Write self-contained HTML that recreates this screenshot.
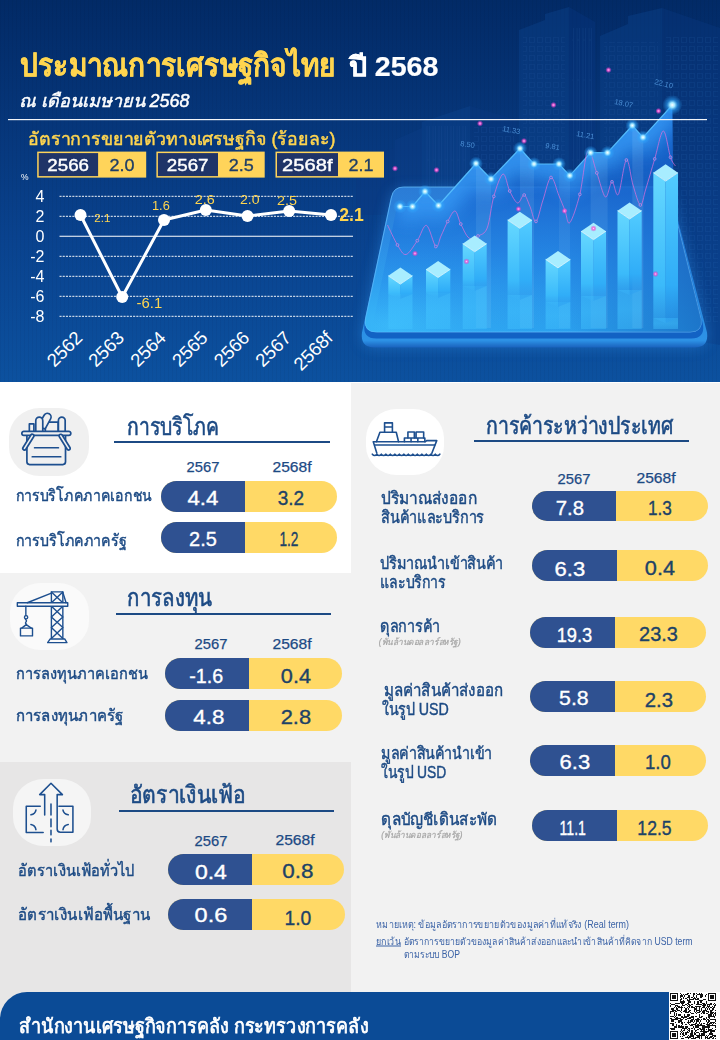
<!DOCTYPE html>
<html lang="th">
<head>
<meta charset="utf-8">
<title>ประมาณการเศรษฐกิจไทย ปี 2568</title>
<style>
html,body{margin:0;padding:0}
body{width:720px;height:1040px;position:relative;overflow:hidden;background:#fff;font-family:"Liberation Sans",sans-serif;color:#1c4a84}
#hdr{position:absolute;left:0;top:0;width:720px;height:381.5px;overflow:hidden;background:linear-gradient(to bottom,#022a66 0%,#07397f 40%,#09428e 62%,#0c519f 100%)}
#hdr svg{position:absolute;left:0;top:0}
#content{position:absolute;left:0;top:383px;width:720px;height:657px;background:#f2f2f2}
#p1{position:absolute;left:0;top:383px;width:351px;height:190.3px;background:#fff}
#p3{position:absolute;left:0;top:762.2px;width:350.7px;height:270px;background:#e7e6e6}
.ico{position:absolute;border-radius:31px/29px}
.ico svg{position:absolute;left:0;top:0;overflow:visible}
.ul{position:absolute;height:2px;background:#1c4a84}
.pill{position:absolute;border-radius:16px;overflow:hidden;background:#ffd966;font-size:20px;white-space:nowrap}
.pill b,.pill i{-webkit-text-stroke:0.35px currentColor}
.pill b{position:absolute;left:0;top:0;bottom:0;background:#2f5191;color:#fff;font-weight:normal;text-align:center}
.pill i{position:absolute;right:0;top:0;bottom:0;font-style:normal;color:#1d4266;text-align:center}
.yr{-webkit-text-stroke:0.25px currentColor;position:absolute;font-size:14.2px;line-height:14px;width:60px;text-align:center;color:#1c4a84;white-space:nowrap}
#ftr{position:absolute;left:0;top:992.3px;width:720px;height:48px;background:#0b4b96;border-top-left-radius:27px;overflow:hidden}
#txt{position:absolute;left:0;top:0;overflow:visible}
#txt text{font-family:"Liberation Sans",sans-serif}
</style>
</head>
<body>
<div id="hdr">
<svg width="720" height="382" viewBox="0 0 720 382">
<defs>
<linearGradient id="gPlat" x1="0" y1="0" x2="0" y2="1"><stop offset="0" stop-color="#2b7cd6"/><stop offset="0.45" stop-color="#2b8ee6"/><stop offset="1" stop-color="#2ba4f2"/></linearGradient>
<linearGradient id="gPlatR" x1="0" y1="0" x2="1" y2="0"><stop offset="0" stop-color="#0a3f9a" stop-opacity="0"/><stop offset="0.6" stop-color="#0a3f9a" stop-opacity="0.05"/><stop offset="1" stop-color="#0a3f9a" stop-opacity="0.45"/></linearGradient>
<linearGradient id="gSide" x1="0" y1="0" x2="0" y2="1"><stop offset="0" stop-color="#1a6fd0"/><stop offset="0.955" stop-color="#2d92e6"/><stop offset="1" stop-color="#1a62bd"/></linearGradient>
<linearGradient id="gArea" x1="0" y1="0" x2="0" y2="1"><stop offset="0" stop-color="#1a6ad4" stop-opacity="0.95"/><stop offset="0.4" stop-color="#1866d0" stop-opacity="0.8"/><stop offset="0.8" stop-color="#1f86ea" stop-opacity="0.25"/><stop offset="1" stop-color="#2a9af5" stop-opacity="0.0"/></linearGradient>
<linearGradient id="gBarL" x1="0" y1="0" x2="0" y2="1"><stop offset="0" stop-color="#66d8ff"/><stop offset="0.75" stop-color="#3cbcfb" stop-opacity="0.97"/><stop offset="1" stop-color="#38b0f6" stop-opacity="0.45"/></linearGradient>
<linearGradient id="gBarR" x1="0" y1="0" x2="0" y2="1"><stop offset="0" stop-color="#52ccff"/><stop offset="0.75" stop-color="#30aef8" stop-opacity="0.97"/><stop offset="1" stop-color="#2c9ff0" stop-opacity="0.45"/></linearGradient>
<linearGradient id="gRefl" x1="0" y1="0" x2="0" y2="1"><stop offset="0" stop-color="#42c4ff" stop-opacity="0.5"/><stop offset="0.5" stop-color="#42c4ff" stop-opacity="0.55"/><stop offset="1" stop-color="#42c4ff" stop-opacity="0.4"/></linearGradient>
<radialGradient id="gGlow"><stop offset="0" stop-color="#ffffff"/><stop offset="0.25" stop-color="#9fe6ff"/><stop offset="0.55" stop-color="#2fa8ff" stop-opacity="0.55"/><stop offset="1" stop-color="#2fa8ff" stop-opacity="0"/></radialGradient>
<radialGradient id="gPink"><stop offset="0" stop-color="#ffd0ff"/><stop offset="0.35" stop-color="#ff5fd8"/><stop offset="1" stop-color="#c030c0" stop-opacity="0"/></radialGradient>
<radialGradient id="gVig" cx="0.3" cy="0.55" r="0.8"><stop offset="0" stop-color="#1050a8" stop-opacity="0.25"/><stop offset="1" stop-color="#001a50" stop-opacity="0"/></radialGradient>
<filter id="fBlur2" x="-10%" y="-30%" width="120%" height="160%"><feGaussianBlur stdDeviation="9"/></filter>
<filter id="fBlur" x="-20%" y="-20%" width="140%" height="140%"><feGaussianBlur stdDeviation="7"/></filter>
<radialGradient id="gPlatGlow" cx="0.08" cy="0.95" r="0.6"><stop offset="0" stop-color="#3fc0fc" stop-opacity="0.75"/><stop offset="0.5" stop-color="#38b4f8" stop-opacity="0.3"/><stop offset="1" stop-color="#38b4f8" stop-opacity="0"/></radialGradient>
<pattern id="pStripe" width="4" height="4" patternUnits="userSpaceOnUse"><rect x="0" y="0" width="1" height="4" fill="#000" opacity="0.035"/></pattern>
<pattern id="pWin" width="8" height="9" patternUnits="userSpaceOnUse"><rect x="1.5" y="1.5" width="5" height="5" fill="none" stroke="#2a62b0" stroke-width="0.8" opacity="0.38"/></pattern>
<pattern id="pLines" width="6" height="40" patternUnits="userSpaceOnUse"><rect x="1" y="0" width="2.5" height="40" fill="none" stroke="#2a62b0" stroke-width="0.7" opacity="0.45"/></pattern>
</defs>
<rect width="720" height="382" fill="url(#pStripe)"/>
<g opacity="0.5">
<polygon points="395,140 422,128 422,192 395,192" fill="#0d3f88" opacity="0.75"/>
<polygon points="422,122 470,106 470,192 422,192" fill="#0f4590" opacity="0.75"/>
<polygon points="470,106 517,120 517,192 470,192" fill="#0b3a82" opacity="0.75"/>
<polygon points="519,30 545,20 545,14 569,7 569,192 519,192" fill="#0f4590" opacity="0.75"/>
<polygon points="569,7 595,22 595,192 569,192" fill="#0a3780" opacity="0.75"/>
<polygon points="600,36 628,24 628,16 662,8 662,335 600,200" fill="#0f4590" opacity="0.75"/>
<polygon points="662,8 720,28 720,345 662,335" fill="#0b3a82" opacity="0.75"/>
<polygon points="356,158 395,148 395,215 356,215" fill="#0b3a82" opacity="0.75"/>
<rect x="523" y="36" width="42" height="152" fill="url(#pWin)"/>
<rect x="572" y="28" width="21" height="160" fill="url(#pLines)"/>
<rect x="604" y="42" width="54" height="150" fill="url(#pWin)"/>
<rect x="666" y="34" width="52" height="290" fill="url(#pWin)"/>
<rect x="426" y="126" width="40" height="62" fill="url(#pLines)"/>
<rect x="474" y="124" width="40" height="64" fill="url(#pWin)"/>
</g>
<path d="M404,189 L659,189 Q671,189 673,201 L707,332.5 Q709,347.5 694,347.5 L375,347.5 Q360,347.5 362,332.5 L390,201 Q392,189 404,189 Z" fill="#2f8fe8" opacity="0.45" filter="url(#fBlur)"/>
<path d="M404,189 L659,189 Q671,189 673,201 L707,332.5 Q709,347.5 694,347.5 L375,347.5 Q360,347.5 362,332.5 L390,201 Q392,189 404,189 Z" fill="url(#gSide)"/>
<path d="M404,187 L659,187 Q670,187 672,198 L703,324.5 Q705,338.5 691,338.5 L376.5,338.5 Q362.5,338.5 364.5,324.5 L391,198 Q393,187 404,187 Z" fill="#1262c4"/>
<path d="M403.5,187 L659,187 Q669,187 671,197 L701,319 Q703,332 690,332 L376.5,332 Q363.5,332 365.5,319 L391.5,197 Q393.5,187 403.5,187 Z" fill="url(#gPlat)" stroke="#6cc4ff" stroke-opacity="0.7" stroke-width="1"/>
<path d="M403.5,187 L659,187 Q669,187 671,197 L701,319 Q703,332 690,332 L376.5,332 Q363.5,332 365.5,319 L391.5,197 Q393.5,187 403.5,187 Z" fill="url(#gPlatGlow)"/>
<path d="M403.5,187 L659,187 Q669,187 671,197 L701,319 Q703,332 690,332 L376.5,332 Q363.5,332 365.5,319 L391.5,197 Q393.5,187 403.5,187 Z" fill="url(#gPlatR)"/>
<clipPath id="cArea"><polygon points="397,206.5 400,206.5 412.5,206.5 425,191.5 438.5,205.5 476,163.5 491,179 520,148.5 534,164 559,164 569.8,175.6 590.6,152.7 607.5,152.7 632.3,125.5 643,137.3 672.3,105 673.5,200 674.5,328 372,328 397,206.5"/></clipPath>
<polygon points="397,206.5 400,206.5 412.5,206.5 425,191.5 438.5,205.5 476,163.5 491,179 520,148.5 534,164 559,164 569.8,175.6 590.6,152.7 607.5,152.7 632.3,125.5 643,137.3 672.3,105 673.5,200 674.5,328 372,328 397,206.5" fill="url(#gArea)"/>
<g clip-path="url(#cArea)"><polyline points="397,206.5 400,206.5 412.5,206.5 425,191.5 438.5,205.5 476,163.5 491,179 520,148.5 534,164 559,164 569.8,175.6 590.6,152.7 607.5,152.7 632.3,125.5 643,137.3 672.3,105" fill="none" stroke="#3aa0fa" stroke-width="30" stroke-linejoin="round" opacity="0.75" filter="url(#fBlur2)"/></g>
<rect x="476" y="100" width="15" height="228" fill="#bfe8ff" opacity="0.1" clip-path="url(#cArea)"/>
<rect x="520" y="100" width="14" height="228" fill="#bfe8ff" opacity="0.1" clip-path="url(#cArea)"/>
<rect x="559" y="100" width="11" height="228" fill="#bfe8ff" opacity="0.08" clip-path="url(#cArea)"/>
<rect x="590.6" y="100" width="17" height="228" fill="#bfe8ff" opacity="0.1" clip-path="url(#cArea)"/>
<rect x="632.3" y="100" width="11" height="228" fill="#bfe8ff" opacity="0.12" clip-path="url(#cArea)"/>
<polyline points="397,206.5 400,206.5 412.5,206.5 425,191.5 438.5,205.5 476,163.5 491,179 520,148.5 534,164 559,164 569.8,175.6 590.6,152.7 607.5,152.7 632.3,125.5 643,137.3 672.3,105" fill="none" stroke="#59c2ff" stroke-width="1.2" stroke-opacity="0.9"/>
<rect x="388.3" y="294" width="24.2" height="35.0" fill="url(#gRefl)"/>
<rect x="426" y="293" width="24.3" height="36.0" fill="url(#gRefl)"/>
<rect x="462.7" y="286" width="24.0" height="43.0" fill="url(#gRefl)"/>
<rect x="507.6" y="295" width="24.4" height="34.0" fill="url(#gRefl)"/>
<rect x="545.6" y="302" width="24.8" height="27.0" fill="url(#gRefl)"/>
<rect x="581" y="296" width="25.0" height="33.0" fill="url(#gRefl)"/>
<rect x="617.5" y="290" width="24.2" height="39.0" fill="url(#gRefl)"/>
<rect x="653.3" y="318" width="24.7" height="11.0" fill="url(#gRefl)"/>
<path d="M387.5,225 C389.2,228.3 394.4,240.1 397.5,245 C400.6,249.9 402.7,255.2 406,254.5 C409.3,253.8 413.9,245.5 417.3,240.7 C420.7,235.8 423.4,224.4 426.5,225.4 C429.6,226.4 433.4,244.7 435.8,246.5 C438.2,248.3 439.0,240.2 441,236 C443.0,231.8 445.4,225.7 447.7,221.5 C450.0,217.3 452.8,210.6 455,211 C457.2,211.4 458.5,219.5 460.8,224 C463.1,228.5 466.1,236.0 469,238 C471.9,240.0 475.0,237.7 478,236 C481.0,234.3 484.6,234.6 487.2,228 C489.8,221.4 491.2,205.4 493.8,196.4 C496.4,187.4 500.4,174.9 503,174 C505.6,173.1 507.3,186.2 509.7,191 C512.1,195.8 515.2,202.3 517.6,203 C520.0,203.7 522.1,194.4 524.2,195 C526.3,195.6 528.0,202.1 530,206.5 C532.0,210.9 533.8,222.5 536,221.4 C538.2,220.3 540.5,207.3 543,200 C545.5,192.7 548.3,178.2 551,177.5 C553.7,176.8 556.7,190.3 559,195.8 C561.3,201.3 563.2,206.1 565,210.6 C566.8,215.1 567.3,225.4 569.8,222.7 C572.3,220.0 576.8,206.4 579.8,194.4 C582.8,182.4 585.1,154.1 587.9,150.5 C590.7,146.9 593.9,165.2 596.8,172.9 C599.7,180.7 602.9,195.5 605.4,197 C607.9,198.5 609.9,182.2 612,181.8 C614.1,181.4 615.9,198.0 618.3,194.4 C620.7,190.8 623.9,161.6 626.4,160 C628.9,158.4 630.7,177.5 633,185 C635.3,192.5 638.3,204.3 640.4,205 C642.5,205.7 643.4,196.7 645.8,189 C648.2,181.3 651.8,168.6 654.7,158.9 C657.6,149.2 660.7,131.3 663.3,131 C665.9,130.7 668.5,151.5 670.5,157.3 C672.5,163.1 674.6,164.6 675.4,166" fill="none" stroke="#e070dc" stroke-width="0.95" stroke-opacity="0.75"/>
<circle cx="397.5" cy="245" r="1.4" fill="#2b7fe0" stroke="#f08ae6" stroke-width="0.7" opacity="0.85"/>
<circle cx="417.3" cy="240.7" r="1.4" fill="#2b7fe0" stroke="#f08ae6" stroke-width="0.7" opacity="0.85"/>
<circle cx="435.8" cy="246.5" r="1.4" fill="#2b7fe0" stroke="#f08ae6" stroke-width="0.7" opacity="0.85"/>
<circle cx="447.7" cy="221.5" r="1.4" fill="#2b7fe0" stroke="#f08ae6" stroke-width="0.7" opacity="0.85"/>
<circle cx="460.8" cy="224" r="1.4" fill="#2b7fe0" stroke="#f08ae6" stroke-width="0.7" opacity="0.85"/>
<circle cx="478" cy="236" r="1.4" fill="#2b7fe0" stroke="#f08ae6" stroke-width="0.7" opacity="0.85"/>
<circle cx="493.8" cy="196.4" r="1.4" fill="#2b7fe0" stroke="#f08ae6" stroke-width="0.7" opacity="0.85"/>
<circle cx="509.7" cy="191" r="1.4" fill="#2b7fe0" stroke="#f08ae6" stroke-width="0.7" opacity="0.85"/>
<circle cx="524.2" cy="195" r="1.4" fill="#2b7fe0" stroke="#f08ae6" stroke-width="0.7" opacity="0.85"/>
<circle cx="536" cy="221.4" r="1.4" fill="#2b7fe0" stroke="#f08ae6" stroke-width="0.7" opacity="0.85"/>
<circle cx="551" cy="177.5" r="1.4" fill="#2b7fe0" stroke="#f08ae6" stroke-width="0.7" opacity="0.85"/>
<circle cx="565" cy="210.6" r="1.4" fill="#2b7fe0" stroke="#f08ae6" stroke-width="0.7" opacity="0.85"/>
<circle cx="579.8" cy="194.4" r="1.4" fill="#2b7fe0" stroke="#f08ae6" stroke-width="0.7" opacity="0.85"/>
<circle cx="596.8" cy="172.9" r="1.4" fill="#2b7fe0" stroke="#f08ae6" stroke-width="0.7" opacity="0.85"/>
<circle cx="612" cy="181.8" r="1.4" fill="#2b7fe0" stroke="#f08ae6" stroke-width="0.7" opacity="0.85"/>
<circle cx="626.4" cy="160" r="1.4" fill="#2b7fe0" stroke="#f08ae6" stroke-width="0.7" opacity="0.85"/>
<circle cx="640.4" cy="205" r="1.4" fill="#2b7fe0" stroke="#f08ae6" stroke-width="0.7" opacity="0.85"/>
<circle cx="654.7" cy="158.9" r="1.4" fill="#2b7fe0" stroke="#f08ae6" stroke-width="0.7" opacity="0.85"/>
<circle cx="670.5" cy="157.3" r="1.4" fill="#2b7fe0" stroke="#f08ae6" stroke-width="0.7" opacity="0.85"/>
<polygon points="388.3,275.8 400.4,284.1 400.4,299.0 388.3,294.0" fill="url(#gBarL)"/>
<polygon points="400.4,284.1 412.5,275.8 412.5,294.0 400.4,299.0" fill="url(#gBarR)"/>
<polygon points="400.4,267.6 412.5,275.8 400.4,284.1 388.3,275.8" fill="#a8edff"/>
<polyline points="388.3,275.8 400.4,284.1 412.5,275.8" fill="none" stroke="#e8fbff" stroke-width="0.8" opacity="0.9"/>
<polygon points="426,269.3 438.1,277.5 438.1,298.0 426,293.0" fill="url(#gBarL)"/>
<polygon points="438.1,277.5 450.3,269.3 450.3,293.0 438.1,298.0" fill="url(#gBarR)"/>
<polygon points="438.1,261.0 450.3,269.3 438.1,277.5 426,269.3" fill="#a8edff"/>
<polyline points="426,269.3 438.1,277.5 450.3,269.3" fill="none" stroke="#e8fbff" stroke-width="0.8" opacity="0.9"/>
<polygon points="462.7,243.7 474.7,251.8 474.7,291.0 462.7,286.0" fill="url(#gBarL)"/>
<polygon points="474.7,251.8 486.7,243.7 486.7,286.0 474.7,291.0" fill="url(#gBarR)"/>
<polygon points="474.7,235.5 486.7,243.7 474.7,251.8 462.7,243.7" fill="#a8edff"/>
<polyline points="462.7,243.7 474.7,251.8 486.7,243.7" fill="none" stroke="#e8fbff" stroke-width="0.8" opacity="0.9"/>
<polygon points="507.6,220.0 519.8,228.3 519.8,300.0 507.6,295.0" fill="url(#gBarL)"/>
<polygon points="519.8,228.3 532,220.0 532,295.0 519.8,300.0" fill="url(#gBarR)"/>
<polygon points="519.8,211.7 532,220.0 519.8,228.3 507.6,220.0" fill="#a8edff"/>
<polyline points="507.6,220.0 519.8,228.3 532,220.0" fill="none" stroke="#e8fbff" stroke-width="0.8" opacity="0.9"/>
<polygon points="545.6,259.4 558.0,267.9 558.0,307.0 545.6,302.0" fill="url(#gBarL)"/>
<polygon points="558.0,267.9 570.4,259.4 570.4,302.0 558.0,307.0" fill="url(#gBarR)"/>
<polygon points="558.0,251.0 570.4,259.4 558.0,267.9 545.6,259.4" fill="#a8edff"/>
<polyline points="545.6,259.4 558.0,267.9 570.4,259.4" fill="none" stroke="#e8fbff" stroke-width="0.8" opacity="0.9"/>
<polygon points="581,231.2 593.5,239.7 593.5,301.0 581,296.0" fill="url(#gBarL)"/>
<polygon points="593.5,239.7 606,231.2 606,296.0 593.5,301.0" fill="url(#gBarR)"/>
<polygon points="593.5,222.7 606,231.2 593.5,239.7 581,231.2" fill="#a8edff"/>
<polyline points="581,231.2 593.5,239.7 606,231.2" fill="none" stroke="#e8fbff" stroke-width="0.8" opacity="0.9"/>
<polygon points="617.5,210.7 629.6,219.0 629.6,295.0 617.5,290.0" fill="url(#gBarL)"/>
<polygon points="629.6,219.0 641.7,210.7 641.7,290.0 629.6,295.0" fill="url(#gBarR)"/>
<polygon points="629.6,202.5 641.7,210.7 629.6,219.0 617.5,210.7" fill="#a8edff"/>
<polyline points="617.5,210.7 629.6,219.0 641.7,210.7" fill="none" stroke="#e8fbff" stroke-width="0.8" opacity="0.9"/>
<polygon points="653.3,172.7 665.6,181.1 665.6,323.0 653.3,318.0" fill="url(#gBarL)"/>
<polygon points="665.6,181.1 678,172.7 678,318.0 665.6,323.0" fill="url(#gBarR)"/>
<polygon points="665.6,164.3 678,172.7 665.6,181.1 653.3,172.7" fill="#a8edff"/>
<polyline points="653.3,172.7 665.6,181.1 678,172.7" fill="none" stroke="#e8fbff" stroke-width="0.8" opacity="0.9"/>
<circle cx="400" cy="206.5" r="7" fill="url(#gGlow)"/>
<circle cx="412.5" cy="206.5" r="7" fill="url(#gGlow)"/>
<circle cx="425" cy="191.5" r="7" fill="url(#gGlow)"/>
<circle cx="438.5" cy="205.5" r="7" fill="url(#gGlow)"/>
<circle cx="476" cy="163.5" r="7" fill="url(#gGlow)"/>
<circle cx="491" cy="179" r="7" fill="url(#gGlow)"/>
<circle cx="520" cy="148.5" r="7" fill="url(#gGlow)"/>
<circle cx="534" cy="164" r="7" fill="url(#gGlow)"/>
<circle cx="559" cy="164" r="7" fill="url(#gGlow)"/>
<circle cx="569.8" cy="175.6" r="7" fill="url(#gGlow)"/>
<circle cx="590.6" cy="152.7" r="7" fill="url(#gGlow)"/>
<circle cx="607.5" cy="152.7" r="7" fill="url(#gGlow)"/>
<circle cx="632.3" cy="125.5" r="7" fill="url(#gGlow)"/>
<circle cx="643" cy="137.3" r="7" fill="url(#gGlow)"/>
<circle cx="672.3" cy="105" r="10" fill="url(#gGlow)"/>
<circle cx="608.5" cy="70" r="3.2" fill="url(#gPink)" opacity="0.9"/>
<circle cx="553.5" cy="105" r="3.2" fill="url(#gPink)" opacity="0.9"/>
<circle cx="480" cy="123.5" r="3.2" fill="url(#gPink)" opacity="0.9"/>
<circle cx="658.5" cy="111" r="3.2" fill="url(#gPink)" opacity="0.9"/>
<circle cx="395" cy="168.5" r="3.2" fill="url(#gPink)" opacity="0.9"/>
<circle cx="436.5" cy="170" r="3.2" fill="url(#gPink)" opacity="0.9"/>
<circle cx="524" cy="141" r="3.2" fill="url(#gPink)" opacity="0.9"/>
<circle cx="415" cy="253.5" r="3.2" fill="url(#gPink)" opacity="0.9"/>
<circle cx="466.5" cy="261.5" r="3.2" fill="url(#gPink)" opacity="0.9"/>
<circle cx="518.5" cy="209" r="3.2" fill="url(#gPink)" opacity="0.9"/>
<circle cx="593.5" cy="228.5" r="3.2" fill="url(#gPink)" opacity="0.9"/>
<circle cx="655.5" cy="274" r="3.2" fill="url(#gPink)" opacity="0.9"/>
<circle cx="564.5" cy="211" r="3.2" fill="url(#gPink)" opacity="0.9"/>
<text x="654" y="84" font-family="Liberation Sans, sans-serif" font-size="7.5" fill="#5fa8ee" opacity="0.75" transform="rotate(14 654 84)">22.10</text>
<text x="614" y="104" font-family="Liberation Sans, sans-serif" font-size="7.5" fill="#5fa8ee" opacity="0.75" transform="rotate(12 614 104)">18.07</text>
<text x="502" y="131" font-family="Liberation Sans, sans-serif" font-size="7.5" fill="#5fa8ee" opacity="0.75" transform="rotate(10 502 131)">11.33</text>
<text x="576" y="136" font-family="Liberation Sans, sans-serif" font-size="7.5" fill="#5fa8ee" opacity="0.75" transform="rotate(10 576 136)">11.21</text>
<text x="460" y="146" font-family="Liberation Sans, sans-serif" font-size="7.5" fill="#5fa8ee" opacity="0.75" transform="rotate(8 460 146)">8.50</text>
<text x="545" y="148" font-family="Liberation Sans, sans-serif" font-size="7.5" fill="#5fa8ee" opacity="0.75" transform="rotate(8 545 148)">9.81</text>
<rect x="8" y="119" width="699" height="1.2" fill="#ffffff" opacity="0.95"/>
<line x1="59.5" x2="353" y1="196.3" y2="196.3" stroke="#ffffff" stroke-width="1" stroke-dasharray="2.1 1.1" opacity="0.95"/>
<line x1="59.5" x2="353" y1="216.3" y2="216.3" stroke="#ffffff" stroke-width="1" stroke-dasharray="2.1 1.1" opacity="0.95"/>
<line x1="59.5" x2="353" y1="256.3" y2="256.3" stroke="#ffffff" stroke-width="1" stroke-dasharray="2.1 1.1" opacity="0.95"/>
<line x1="59.5" x2="353" y1="276.3" y2="276.3" stroke="#ffffff" stroke-width="1" stroke-dasharray="2.1 1.1" opacity="0.95"/>
<line x1="59.5" x2="353" y1="296.3" y2="296.3" stroke="#ffffff" stroke-width="1" stroke-dasharray="2.1 1.1" opacity="0.95"/>
<line x1="59.5" x2="353" y1="316.3" y2="316.3" stroke="#ffffff" stroke-width="1" stroke-dasharray="2.1 1.1" opacity="0.95"/>
<line x1="59.5" x2="353" y1="236.3" y2="236.3" stroke="#ffffff" stroke-width="1.1"/>
<polyline points="80.5,215.0 122.2,297.0 164.0,220.0 205.8,210.0 247.5,216.0 289.2,211.0 331.0,215.0" fill="none" stroke="#ffffff" stroke-width="3" stroke-linejoin="round"/>
<circle cx="80.5" cy="215.0" r="6" fill="#ffffff"/>
<circle cx="122.2" cy="297.0" r="6" fill="#ffffff"/>
<circle cx="164.0" cy="220.0" r="6" fill="#ffffff"/>
<circle cx="205.8" cy="210.0" r="6" fill="#ffffff"/>
<circle cx="247.5" cy="216.0" r="6" fill="#ffffff"/>
<circle cx="289.2" cy="211.0" r="6" fill="#ffffff"/>
<circle cx="331.0" cy="215.0" r="6" fill="#ffffff"/>
<text x="44.5" y="201.6" text-anchor="end" font-family="Liberation Sans, sans-serif" font-size="16" fill="#ffffff">4</text>
<text x="44.5" y="221.6" text-anchor="end" font-family="Liberation Sans, sans-serif" font-size="16" fill="#ffffff">2</text>
<text x="44.5" y="241.6" text-anchor="end" font-family="Liberation Sans, sans-serif" font-size="16" fill="#ffffff">0</text>
<text x="44.5" y="261.6" text-anchor="end" font-family="Liberation Sans, sans-serif" font-size="16" fill="#ffffff">-2</text>
<text x="44.5" y="281.6" text-anchor="end" font-family="Liberation Sans, sans-serif" font-size="16" fill="#ffffff">-4</text>
<text x="44.5" y="301.6" text-anchor="end" font-family="Liberation Sans, sans-serif" font-size="16" fill="#ffffff">-6</text>
<text x="44.5" y="321.6" text-anchor="end" font-family="Liberation Sans, sans-serif" font-size="16" fill="#ffffff">-8</text>
<text x="21" y="179.5" font-family="Liberation Sans, sans-serif" font-size="8.5" fill="#ffffff">%</text>
<text x="83.5" y="339" text-anchor="end" font-family="Liberation Sans, sans-serif" font-size="18.5" fill="#ffffff" transform="rotate(-45 83.5 339)">2562</text>
<text x="125.2" y="339" text-anchor="end" font-family="Liberation Sans, sans-serif" font-size="18.5" fill="#ffffff" transform="rotate(-45 125.2 339)">2563</text>
<text x="167.0" y="339" text-anchor="end" font-family="Liberation Sans, sans-serif" font-size="18.5" fill="#ffffff" transform="rotate(-45 167.0 339)">2564</text>
<text x="208.8" y="339" text-anchor="end" font-family="Liberation Sans, sans-serif" font-size="18.5" fill="#ffffff" transform="rotate(-45 208.8 339)">2565</text>
<text x="250.5" y="339" text-anchor="end" font-family="Liberation Sans, sans-serif" font-size="18.5" fill="#ffffff" transform="rotate(-45 250.5 339)">2566</text>
<text x="292.2" y="339" text-anchor="end" font-family="Liberation Sans, sans-serif" font-size="18.5" fill="#ffffff" transform="rotate(-45 292.2 339)">2567</text>
<text x="334.0" y="339" text-anchor="end" font-family="Liberation Sans, sans-serif" font-size="18.5" fill="#ffffff" transform="rotate(-45 334.0 339)">2568f</text>
<text x="94.2" y="221.7" textLength="16.2" lengthAdjust="spacingAndGlyphs" font-family="Liberation Sans, sans-serif" font-size="11" fill="#ffd54f">2.1</text>
<text x="136.5" y="307.9" textLength="25.7" lengthAdjust="spacingAndGlyphs" font-family="Liberation Sans, sans-serif" font-size="15" fill="#ffd54f">-6.1</text>
<text x="152" y="209.9" textLength="17.8" lengthAdjust="spacingAndGlyphs" font-family="Liberation Sans, sans-serif" font-size="12.5" fill="#ffd54f">1.6</text>
<text x="194.8" y="203.9" textLength="20.0" lengthAdjust="spacingAndGlyphs" font-family="Liberation Sans, sans-serif" font-size="13.5" fill="#ffd54f">2.6</text>
<text x="240" y="204.4" textLength="19.6" lengthAdjust="spacingAndGlyphs" font-family="Liberation Sans, sans-serif" font-size="13.5" fill="#ffd54f">2.0</text>
<text x="277" y="205" textLength="20.0" lengthAdjust="spacingAndGlyphs" font-family="Liberation Sans, sans-serif" font-size="13.5" fill="#ffd54f">2.5</text>
<text x="339.3" y="220.7" textLength="24.5" lengthAdjust="spacingAndGlyphs" font-family="Liberation Sans, sans-serif" font-size="19" font-weight="bold" fill="#ffd54f">2.1</text>
<rect x="37.2" y="151.6" width="109.0" height="26" fill="#ffd45a"/>
<rect x="38.7" y="153.1" width="59.4" height="23" fill="#1f3468"/>
<text x="47.3" y="171.2" textLength="41.7" lengthAdjust="spacingAndGlyphs" font-family="Liberation Sans, sans-serif" font-size="16.5" fill="#ffffff" stroke="#ffffff" stroke-width="0.4">2566</text>
<text x="109.6" y="171.2" textLength="25" lengthAdjust="spacingAndGlyphs" font-family="Liberation Sans, sans-serif" font-size="16" fill="#1f3e66" stroke="#1f3e66" stroke-width="0.3">2.0</text>
<rect x="156.4" y="151.6" width="108.3" height="26" fill="#ffd45a"/>
<rect x="157.9" y="153.1" width="60.1" height="23" fill="#1f3468"/>
<text x="166.8" y="171.2" textLength="41.7" lengthAdjust="spacingAndGlyphs" font-family="Liberation Sans, sans-serif" font-size="16.5" fill="#ffffff" stroke="#ffffff" stroke-width="0.4">2567</text>
<text x="228.8" y="171.2" textLength="25" lengthAdjust="spacingAndGlyphs" font-family="Liberation Sans, sans-serif" font-size="16" fill="#1f3e66" stroke="#1f3e66" stroke-width="0.3">2.5</text>
<rect x="275.5" y="151.6" width="108.5" height="26" fill="#ffd45a"/>
<rect x="277.0" y="153.1" width="61.0" height="23" fill="#1f3468"/>
<text x="282.0" y="171.2" textLength="50.5" lengthAdjust="spacingAndGlyphs" font-family="Liberation Sans, sans-serif" font-size="16.5" fill="#ffffff" stroke="#ffffff" stroke-width="0.4">2568f</text>
<text x="348.5" y="171.2" textLength="25" lengthAdjust="spacingAndGlyphs" font-family="Liberation Sans, sans-serif" font-size="16" fill="#1f3e66" stroke="#1f3e66" stroke-width="0.3">2.1</text>
</svg>
</div>
<div id="content"></div>
<div id="p1"></div>
<div id="p3"></div>
<div class="ico" id="i1" style="left:9px;top:408px;width:79.5px;height:68.3px;background:#f0f0f0"><svg width="78" height="68" viewBox="0 0 78 68" fill="none" stroke="#1d4f8f" stroke-width="1.7" stroke-linecap="round" stroke-linejoin="round"><path d="M 20.35,23.3 L 20.35,15.95 L 24.9,15.95 L 24.9,23.3"/>
<path d="M 36.34,23.3 L 36.34,14.2 L 49.17,14.2 L 49.17,23.3" fill="#f0f0f0"/>
<path d="M 28.33,19.19 L 35.1,7.24 A 3.73,3.73 0 0 1 41.6,10.9 L 36.15,20.83 Z" fill="#f0f0f0"/>
<path d="M 26.77,23.3 L 26.77,12.68 A 3.5,3.5 0 0 1 33.77,12.68 L 33.77,23.3" fill="#f0f0f0"/>
<path d="M 49.4,23.3 L 49.4,12.45 A 3.38,3.38 0 0 1 56.17,12.45 L 56.17,23.3" fill="#f0f0f0"/>
<path d="M 17.9,26.57 L 17.9,53.87 Q 17.9,56.55 20.58,56.55 L 53.84,56.55 Q 56.52,56.55 56.52,53.87 L 56.52,26.57 Z" fill="#f0f0f0"/>
<path d="M 14.87,23.3 L 59.79,23.3 A 2.04,2.04 0 0 1 59.79,27.38 L 14.87,27.38 A 2.04,2.04 0 0 1 14.87,23.3 Z" fill="#f0f0f0"/>
<path d="M 25.6,39.75 L 49.4,39.75 M 23.27,48.74 L 51.74,48.74"/>
<path d="M 21.87,27.03 A 1.63,1.63 0 0 1 24.67,28.78 L 16.85,41.27 A 1.63,1.63 0 0 1 14.05,39.52 Z" fill="#f0f0f0"/>
<path d="M 53.14,27.03 A 1.63,1.63 0 0 0 50.34,28.78 L 58.15,41.27 A 1.63,1.63 0 0 0 60.95,39.52 Z" fill="#f0f0f0"/></svg></div>
<div class="ico" id="i2" style="left:10px;top:582.5px;width:78.5px;height:67.3px;background:#fafafa"><svg width="77.5" height="66.3" viewBox="0 0 77.5 66.3" fill="none" stroke="#1d4f8f" stroke-width="1.4" stroke-linecap="round" stroke-linejoin="round"><path d="M 41.4,55.94 L 41.4,8.92 L 52.84,8.92 L 52.84,55.94"/>
<path d="M 41.4,8.92 L 52.84,19.77 M 52.84,8.92 L 41.4,19.77 M 41.4,23.27 L 52.84,34 M 52.84,23.27 L 41.4,34 M 41.4,34 L 52.84,44.5 M 52.84,34 L 41.4,44.5 M 41.4,44.5 L 52.84,55.59 M 52.84,44.5 L 41.4,55.59"/>
<path d="M 7.33,19.77 L 57.74,19.77 L 57.74,23.27 L 7.33,23.27 Z" fill="#fafafa"/>
<path d="M 17.25,19.77 L 41.4,10.08 M 52.84,9.5 L 56.1,19.77"/>
<path d="M 37.67,59.67 L 40.24,55.94 L 54.7,55.94 L 56.92,59.67 Z" fill="#fafafa"/>
<path d="M 15.85,23.27 L 15.85,32.6"/>
<circle cx="16.08" cy="34.24" r="1.63"/>
<path d="M 15.5,36.34 Q 17.37,37.74 15.73,39.37 Q 15.03,40.3 16.43,41.24"/>
<path d="M 16.2,41.59 L 11.77,45.09 M 16.2,41.59 L 21.33,45.09"/>
<path d="M 10.48,45.09 L 22.5,45.09 L 22.5,52.9 L 10.48,52.9 Z"/></svg></div>
<div class="ico" id="i3" style="left:12.5px;top:778.8px;width:78.6px;height:67.5px;background:#f5f5f5"><svg width="78" height="67.2" viewBox="0 0 78 67.2" fill="none" stroke="#1d4f8f" stroke-width="1.55" stroke-linecap="round" stroke-linejoin="round"><path d="M 31.69,36.04 L 31.69,15.62 L 26.67,15.62 L 37.99,4.3 L 49.42,15.62 L 44.17,15.62 L 44.17,50.04 Q 44.17,53.19 47.32,53.19 L 59.92,53.19 L 59.92,27.28 L 45.92,27.28"/>
<path d="M 27.25,27.28 L 13.25,27.28 L 13.25,53.54 L 30.17,53.54"/>
<path d="M 37.99,24.95 L 37.99,36.04 M 37.99,40.12 L 37.99,47.7 M 37.99,51.2 L 37.99,55.87 M 37.99,59.95 L 37.99,62.87"/>
<path d="M 17.92,35.8 Q 22.23,35.1 22.93,31.14 M 17.92,45.6 Q 22.23,46.3 22.93,50.62 M 50,31.14 Q 50.7,35.1 55.25,35.8 M 50,50.62 Q 50.7,46.3 55.25,45.6"/></svg></div>
<div class="ico" id="i4" style="left:366px;top:408.8px;width:77.8px;height:66.4px;background:#ffffff"><svg width="77.8" height="66.2" viewBox="0 0 77.8 66.2" fill="none" stroke="#1d4f8f" stroke-width="1.6" stroke-linecap="round" stroke-linejoin="round"><path d="M 18.58,23.2 L 18.58,13.87 L 26.4,13.87 L 26.4,23.2 M 18.58,17.95 L 26.4,17.95"/>
<path d="M 10.42,32.77 L 13.92,23.2 L 30.25,23.2 L 32.59,32.77"/>
<path d="M 38.42,32.77 L 38.42,29.04 L 58.84,29.04 L 58.84,32.77 M 45.07,29.04 L 45.07,32.77 M 51.84,29.04 L 51.84,32.77"/>
<path d="M 41.92,29.04 L 41.92,22.97 L 48.34,22.97 L 48.34,29.04 M 50.09,29.04 L 50.09,22.97 L 57.67,22.97 L 57.67,29.04"/>
<path d="M 10.77,43.97 L 7.27,32.77 L 59.42,32.77 L 60.59,31.6 L 70.74,31.6 L 65.84,44.2"/>
<path d="M 8.67,36.04 L 68.75,36.04"/>
<path d="M 6.33,45.14 q 2.25,2.8 4.5,0 q 2.25,2.8 4.5,0 q 2.25,2.8 4.5,0 q 2.25,2.8 4.5,0 q 2.25,2.8 4.5,0 q 2.25,2.8 4.5,0 q 2.25,2.8 4.5,0 q 2.25,2.8 4.5,0 q 2.25,2.8 4.5,0 q 2.25,2.8 4.5,0 q 2.25,2.8 4.5,0 q 2.25,2.8 4.5,0 q 2.25,2.8 4.5,0 q 2.25,2.8 4.5,0 q 2.25,2.8 4.5,0"/></svg></div>
<div class="ul" style="left:114.4px;top:441.3px;width:216.0px"></div>
<div class="ul" style="left:116px;top:613px;width:215.0px"></div>
<div class="ul" style="left:119px;top:810.3px;width:215.0px"></div>
<div class="ul" style="left:474.4px;top:440.2px;width:214.9px"></div>
<div class="yr" style="left:173.2px;top:459.5px;transform:scaleX(1.04)">2567</div>
<div class="yr" style="left:261.5px;top:459.5px;transform:scaleX(1.1)">2568f</div>
<div class="yr" style="left:181.0px;top:637.3px;transform:scaleX(1.04)">2567</div>
<div class="yr" style="left:262.0px;top:637.3px;transform:scaleX(1.1)">2568f</div>
<div class="yr" style="left:180.5px;top:833.9px;transform:scaleX(1.04)">2567</div>
<div class="yr" style="left:264.8px;top:832.5px;transform:scaleX(1.1)">2568f</div>
<div class="yr" style="left:544.0px;top:472.0px;transform:scaleX(1.04)">2567</div>
<div class="yr" style="left:625.9px;top:470.6px;transform:scaleX(1.1)">2568f</div>
<div class="pill" style="left:160.7px;top:481.2px;width:176.6px;height:30.8px;line-height:30.8px"><b style="width:84.3px"><span style="display:inline-block;position:relative;left:0.05px;top:1.75px;transform:scaleX(1.114)">4.4</span></b><i style="width:92.3px"><span style="display:inline-block;position:relative;left:0.20px;top:1.75px;transform:scaleX(0.947)">3.2</span></i></div>
<div class="pill" style="left:160.7px;top:522.0px;width:176.6px;height:30.8px;line-height:30.8px"><b style="width:84.3px"><span style="display:inline-block;position:relative;left:0.45px;top:2.45px;transform:scaleX(0.996)">2.5</span></b><i style="width:92.3px"><span style="display:inline-block;position:relative;left:-2.70px;top:2.45px;transform:scaleX(0.685)">1.2</span></i></div>
<div class="pill" style="left:165.3px;top:658.4px;width:176.4px;height:30.2px;line-height:30.2px"><b style="width:83.9px"><span style="display:inline-block;position:relative;left:-0.60px;top:2.85px;transform:scaleX(0.981)">-1.6</span></b><i style="width:92.5px"><span style="display:inline-block;position:relative;left:0.80px;top:2.80px;transform:scaleX(1.083)">0.4</span></i></div>
<div class="pill" style="left:165.3px;top:700.3px;width:176.4px;height:30.3px;line-height:30.3px"><b style="width:83.9px"><span style="display:inline-block;position:relative;left:1.60px;top:1.35px;transform:scaleX(1.118)">4.8</span></b><i style="width:92.5px"><span style="display:inline-block;position:relative;left:0.70px;top:2.05px;transform:scaleX(1.094)">2.8</span></i></div>
<div class="pill" style="left:168.0px;top:854.2px;width:176.0px;height:31.1px;line-height:31.1px"><b style="width:84.2px"><span style="display:inline-block;position:relative;left:0.40px;top:3.10px;transform:scaleX(1.150)">0.4</span></b><i style="width:91.8px"><span style="display:inline-block;position:relative;left:0.25px;top:1.95px;transform:scaleX(1.122)">0.8</span></i></div>
<div class="pill" style="left:168.0px;top:899.2px;width:176.5px;height:31.1px;line-height:31.1px"><b style="width:84.2px"><span style="display:inline-block;position:relative;left:0.70px;top:1.15px;transform:scaleX(1.173)">0.6</span></b><i style="width:92.3px"><span style="display:inline-block;position:relative;left:-0.75px;top:3.65px;transform:scaleX(0.965)">1.0</span></i></div>
<div class="pill" style="left:531.7px;top:490.6px;width:176.6px;height:30.5px;line-height:30.5px"><b style="width:84.1px"><span style="display:inline-block;position:relative;left:-3.60px;top:2.65px;transform:scaleX(1.016)">7.8</span></b><i style="width:92.5px"><span style="display:inline-block;position:relative;left:-2.35px;top:2.65px;transform:scaleX(0.857)">1.3</span></i></div>
<div class="pill" style="left:531.7px;top:550.3px;width:176.6px;height:30.5px;line-height:30.5px"><b style="width:85.0px"><span style="display:inline-block;position:relative;left:-4.00px;top:3.35px;transform:scaleX(1.102)">6.3</span></b><i style="width:91.6px"><span style="display:inline-block;position:relative;left:-2.60px;top:2.50px;transform:scaleX(1.083)">0.4</span></i></div>
<div class="pill" style="left:529.7px;top:617.0px;width:176.3px;height:31.0px;line-height:31.0px"><b style="width:85.3px"><span style="display:inline-block;position:relative;left:1.65px;top:2.75px;transform:scaleX(0.915)">19.3</span></b><i style="width:91.0px"><span style="display:inline-block;position:relative;left:-1.60px;top:2.05px;transform:scaleX(0.995)">23.3</span></i></div>
<div class="pill" style="left:530.3px;top:680.8px;width:175.3px;height:31.2px;line-height:31.2px"><b style="width:84.7px"><span style="display:inline-block;position:relative;left:1.50px;top:2.65px;transform:scaleX(1.063)">5.8</span></b><i style="width:90.6px"><span style="display:inline-block;position:relative;left:-1.10px;top:4.00px;transform:scaleX(1.016)">2.3</span></i></div>
<div class="pill" style="left:530.3px;top:744.7px;width:175.3px;height:31.1px;line-height:31.1px"><b style="width:84.7px"><span style="display:inline-block;position:relative;left:2.00px;top:2.75px;transform:scaleX(1.102)">6.3</span></b><i style="width:90.6px"><span style="display:inline-block;position:relative;left:-2.80px;top:2.75px;transform:scaleX(0.929)">1.0</span></i></div>
<div class="pill" style="left:531.7px;top:810.0px;width:176.6px;height:31.0px;line-height:31.0px"><b style="width:85.0px"><span style="display:inline-block;position:relative;left:-1.35px;top:3.00px;transform:scaleX(0.706)">11.1</span></b><i style="width:91.6px"><span style="display:inline-block;position:relative;left:-8.10px;top:3.00px;transform:scaleX(0.879)">12.5</span></i></div>
<div id="ftr">
<div style="position:absolute;left:668.8px;top:0;width:51.2px;height:48px;background:#fff"><svg width="47" height="47" viewBox="0 0 47 47" style="position:absolute;left:1.6px;top:0.6px" shape-rendering="crispEdges"><path fill="#111" d="M0.00,0.00h8.33v1.19h-8.33zM9.52,0.00h1.19v1.19h-1.19zM16.66,0.00h2.38v1.19h-2.38zM20.23,0.00h1.19v1.19h-1.19zM22.61,0.00h2.38v1.19h-2.38zM26.17,0.00h1.19v1.19h-1.19zM28.55,0.00h1.19v1.19h-1.19zM30.93,0.00h1.19v1.19h-1.19zM38.07,0.00h8.33v1.19h-8.33zM0.00,1.19h1.19v1.19h-1.19zM7.14,1.19h1.19v1.19h-1.19zM10.71,1.19h1.19v1.19h-1.19zM13.09,1.19h1.19v1.19h-1.19zM15.47,1.19h2.38v1.19h-2.38zM22.61,1.19h2.38v1.19h-2.38zM27.36,1.19h5.95v1.19h-5.95zM35.69,1.19h1.19v1.19h-1.19zM38.07,1.19h1.19v1.19h-1.19zM45.21,1.19h1.19v1.19h-1.19zM0.00,2.38h1.19v1.19h-1.19zM2.38,2.38h3.57v1.19h-3.57zM7.14,2.38h1.19v1.19h-1.19zM9.52,2.38h3.57v1.19h-3.57zM14.28,2.38h1.19v1.19h-1.19zM17.85,2.38h2.38v1.19h-2.38zM22.61,2.38h1.19v1.19h-1.19zM26.17,2.38h1.19v1.19h-1.19zM29.74,2.38h3.57v1.19h-3.57zM34.50,2.38h1.19v1.19h-1.19zM38.07,2.38h1.19v1.19h-1.19zM40.45,2.38h3.57v1.19h-3.57zM45.21,2.38h1.19v1.19h-1.19zM0.00,3.57h1.19v1.19h-1.19zM2.38,3.57h3.57v1.19h-3.57zM7.14,3.57h1.19v1.19h-1.19zM9.52,3.57h1.19v1.19h-1.19zM13.09,3.57h1.19v1.19h-1.19zM16.66,3.57h3.57v1.19h-3.57zM21.42,3.57h1.19v1.19h-1.19zM23.79,3.57h1.19v1.19h-1.19zM26.17,3.57h1.19v1.19h-1.19zM29.74,3.57h2.38v1.19h-2.38zM38.07,3.57h1.19v1.19h-1.19zM40.45,3.57h3.57v1.19h-3.57zM45.21,3.57h1.19v1.19h-1.19zM0.00,4.76h1.19v1.19h-1.19zM2.38,4.76h3.57v1.19h-3.57zM7.14,4.76h1.19v1.19h-1.19zM10.71,4.76h1.19v1.19h-1.19zM13.09,4.76h1.19v1.19h-1.19zM15.47,4.76h1.19v1.19h-1.19zM19.04,4.76h1.19v1.19h-1.19zM22.61,4.76h3.57v1.19h-3.57zM27.36,4.76h1.19v1.19h-1.19zM38.07,4.76h1.19v1.19h-1.19zM40.45,4.76h3.57v1.19h-3.57zM45.21,4.76h1.19v1.19h-1.19zM0.00,5.95h1.19v1.19h-1.19zM7.14,5.95h1.19v1.19h-1.19zM9.52,5.95h2.38v1.19h-2.38zM16.66,5.95h1.19v1.19h-1.19zM19.04,5.95h4.76v1.19h-4.76zM24.98,5.95h3.57v1.19h-3.57zM33.31,5.95h2.38v1.19h-2.38zM38.07,5.95h1.19v1.19h-1.19zM45.21,5.95h1.19v1.19h-1.19zM0.00,7.14h8.33v1.19h-8.33zM9.52,7.14h1.19v1.19h-1.19zM13.09,7.14h1.19v1.19h-1.19zM16.66,7.14h3.57v1.19h-3.57zM28.55,7.14h4.76v1.19h-4.76zM38.07,7.14h8.33v1.19h-8.33zM9.52,8.33h5.95v1.19h-5.95zM17.85,8.33h3.57v1.19h-3.57zM23.79,8.33h1.19v1.19h-1.19zM27.36,8.33h1.19v1.19h-1.19zM29.74,8.33h2.38v1.19h-2.38zM35.69,8.33h1.19v1.19h-1.19zM0.00,9.52h1.19v1.19h-1.19zM4.76,9.52h4.76v1.19h-4.76zM10.71,9.52h3.57v1.19h-3.57zM16.66,9.52h2.38v1.19h-2.38zM23.79,9.52h1.19v1.19h-1.19zM27.36,9.52h1.19v1.19h-1.19zM32.12,9.52h2.38v1.19h-2.38zM35.69,9.52h1.19v1.19h-1.19zM40.45,9.52h1.19v1.19h-1.19zM44.02,9.52h1.19v1.19h-1.19zM1.19,10.71h3.57v1.19h-3.57zM11.90,10.71h1.19v1.19h-1.19zM15.47,10.71h1.19v1.19h-1.19zM17.85,10.71h2.38v1.19h-2.38zM21.42,10.71h1.19v1.19h-1.19zM26.17,10.71h5.95v1.19h-5.95zM33.31,10.71h2.38v1.19h-2.38zM36.88,10.71h4.76v1.19h-4.76zM42.83,10.71h1.19v1.19h-1.19zM45.21,10.71h1.19v1.19h-1.19zM0.00,11.90h1.19v1.19h-1.19zM4.76,11.90h3.57v1.19h-3.57zM11.90,11.90h3.57v1.19h-3.57zM16.66,11.90h1.19v1.19h-1.19zM19.04,11.90h2.38v1.19h-2.38zM32.12,11.90h3.57v1.19h-3.57zM36.88,11.90h1.19v1.19h-1.19zM39.26,11.90h1.19v1.19h-1.19zM44.02,11.90h2.38v1.19h-2.38zM0.00,13.09h1.19v1.19h-1.19zM4.76,13.09h1.19v1.19h-1.19zM7.14,13.09h2.38v1.19h-2.38zM10.71,13.09h1.19v1.19h-1.19zM17.85,13.09h2.38v1.19h-2.38zM21.42,13.09h1.19v1.19h-1.19zM24.98,13.09h5.95v1.19h-5.95zM33.31,13.09h1.19v1.19h-1.19zM36.88,13.09h3.57v1.19h-3.57zM41.64,13.09h1.19v1.19h-1.19zM44.02,13.09h1.19v1.19h-1.19zM3.57,14.28h1.19v1.19h-1.19zM5.95,14.28h1.19v1.19h-1.19zM8.33,14.28h4.76v1.19h-4.76zM14.28,14.28h1.19v1.19h-1.19zM16.66,14.28h1.19v1.19h-1.19zM19.04,14.28h1.19v1.19h-1.19zM21.42,14.28h3.57v1.19h-3.57zM26.17,14.28h1.19v1.19h-1.19zM28.55,14.28h1.19v1.19h-1.19zM32.12,14.28h2.38v1.19h-2.38zM35.69,14.28h1.19v1.19h-1.19zM38.07,14.28h1.19v1.19h-1.19zM40.45,14.28h1.19v1.19h-1.19zM42.83,14.28h2.38v1.19h-2.38zM1.19,15.47h2.38v1.19h-2.38zM5.95,15.47h2.38v1.19h-2.38zM10.71,15.47h1.19v1.19h-1.19zM15.47,15.47h1.19v1.19h-1.19zM17.85,15.47h1.19v1.19h-1.19zM23.79,15.47h3.57v1.19h-3.57zM28.55,15.47h1.19v1.19h-1.19zM30.93,15.47h1.19v1.19h-1.19zM34.50,15.47h1.19v1.19h-1.19zM36.88,15.47h1.19v1.19h-1.19zM39.26,15.47h1.19v1.19h-1.19zM41.64,15.47h2.38v1.19h-2.38zM2.38,16.66h3.57v1.19h-3.57zM7.14,16.66h2.38v1.19h-2.38zM10.71,16.66h1.19v1.19h-1.19zM14.28,16.66h2.38v1.19h-2.38zM19.04,16.66h2.38v1.19h-2.38zM23.79,16.66h1.19v1.19h-1.19zM26.17,16.66h3.57v1.19h-3.57zM30.93,16.66h1.19v1.19h-1.19zM33.31,16.66h3.57v1.19h-3.57zM40.45,16.66h2.38v1.19h-2.38zM45.21,16.66h1.19v1.19h-1.19zM0.00,17.85h3.57v1.19h-3.57zM4.76,17.85h2.38v1.19h-2.38zM9.52,17.85h1.19v1.19h-1.19zM13.09,17.85h3.57v1.19h-3.57zM17.85,17.85h2.38v1.19h-2.38zM23.79,17.85h1.19v1.19h-1.19zM26.17,17.85h1.19v1.19h-1.19zM28.55,17.85h2.38v1.19h-2.38zM32.12,17.85h2.38v1.19h-2.38zM35.69,17.85h3.57v1.19h-3.57zM40.45,17.85h1.19v1.19h-1.19zM0.00,19.04h1.19v1.19h-1.19zM3.57,19.04h1.19v1.19h-1.19zM10.71,19.04h1.19v1.19h-1.19zM15.47,19.04h3.57v1.19h-3.57zM20.23,19.04h1.19v1.19h-1.19zM24.98,19.04h1.19v1.19h-1.19zM27.36,19.04h2.38v1.19h-2.38zM32.12,19.04h2.38v1.19h-2.38zM38.07,19.04h1.19v1.19h-1.19zM40.45,19.04h3.57v1.19h-3.57zM45.21,19.04h1.19v1.19h-1.19zM0.00,20.23h1.19v1.19h-1.19zM3.57,20.23h1.19v1.19h-1.19zM5.95,20.23h1.19v1.19h-1.19zM21.42,20.23h2.38v1.19h-2.38zM26.17,20.23h1.19v1.19h-1.19zM30.93,20.23h1.19v1.19h-1.19zM33.31,20.23h1.19v1.19h-1.19zM35.69,20.23h2.38v1.19h-2.38zM40.45,20.23h2.38v1.19h-2.38zM44.02,20.23h2.38v1.19h-2.38zM3.57,21.42h1.19v1.19h-1.19zM5.95,21.42h1.19v1.19h-1.19zM8.33,21.42h2.38v1.19h-2.38zM14.28,21.42h1.19v1.19h-1.19zM16.66,21.42h3.57v1.19h-3.57zM28.55,21.42h1.19v1.19h-1.19zM38.07,21.42h3.57v1.19h-3.57zM42.83,21.42h1.19v1.19h-1.19zM45.21,21.42h1.19v1.19h-1.19zM0.00,22.61h3.57v1.19h-3.57zM4.76,22.61h1.19v1.19h-1.19zM10.71,22.61h2.38v1.19h-2.38zM14.28,22.61h4.76v1.19h-4.76zM21.42,22.61h2.38v1.19h-2.38zM24.98,22.61h2.38v1.19h-2.38zM28.55,22.61h1.19v1.19h-1.19zM30.93,22.61h2.38v1.19h-2.38zM38.07,22.61h7.14v1.19h-7.14zM3.57,23.79h1.19v1.19h-1.19zM5.95,23.79h2.38v1.19h-2.38zM10.71,23.79h5.95v1.19h-5.95zM19.04,23.79h4.76v1.19h-4.76zM28.55,23.79h3.57v1.19h-3.57zM35.69,23.79h1.19v1.19h-1.19zM38.07,23.79h2.38v1.19h-2.38zM44.02,23.79h1.19v1.19h-1.19zM0.00,24.98h2.38v1.19h-2.38zM4.76,24.98h5.95v1.19h-5.95zM13.09,24.98h1.19v1.19h-1.19zM16.66,24.98h4.76v1.19h-4.76zM22.61,24.98h1.19v1.19h-1.19zM27.36,24.98h1.19v1.19h-1.19zM33.31,24.98h1.19v1.19h-1.19zM35.69,24.98h1.19v1.19h-1.19zM39.26,24.98h1.19v1.19h-1.19zM1.19,26.17h7.14v1.19h-7.14zM9.52,26.17h3.57v1.19h-3.57zM15.47,26.17h1.19v1.19h-1.19zM21.42,26.17h2.38v1.19h-2.38zM24.98,26.17h4.76v1.19h-4.76zM30.93,26.17h1.19v1.19h-1.19zM33.31,26.17h2.38v1.19h-2.38zM36.88,26.17h2.38v1.19h-2.38zM40.45,26.17h5.95v1.19h-5.95zM1.19,27.36h2.38v1.19h-2.38zM8.33,27.36h3.57v1.19h-3.57zM17.85,27.36h1.19v1.19h-1.19zM20.23,27.36h2.38v1.19h-2.38zM23.79,27.36h1.19v1.19h-1.19zM26.17,27.36h2.38v1.19h-2.38zM29.74,27.36h1.19v1.19h-1.19zM35.69,27.36h1.19v1.19h-1.19zM38.07,27.36h2.38v1.19h-2.38zM45.21,27.36h1.19v1.19h-1.19zM4.76,28.55h1.19v1.19h-1.19zM8.33,28.55h1.19v1.19h-1.19zM10.71,28.55h2.38v1.19h-2.38zM14.28,28.55h1.19v1.19h-1.19zM16.66,28.55h4.76v1.19h-4.76zM22.61,28.55h1.19v1.19h-1.19zM26.17,28.55h1.19v1.19h-1.19zM28.55,28.55h1.19v1.19h-1.19zM36.88,28.55h2.38v1.19h-2.38zM40.45,28.55h4.76v1.19h-4.76zM0.00,29.74h3.57v1.19h-3.57zM10.71,29.74h2.38v1.19h-2.38zM17.85,29.74h1.19v1.19h-1.19zM24.98,29.74h2.38v1.19h-2.38zM28.55,29.74h1.19v1.19h-1.19zM30.93,29.74h1.19v1.19h-1.19zM33.31,29.74h1.19v1.19h-1.19zM36.88,29.74h1.19v1.19h-1.19zM39.26,29.74h2.38v1.19h-2.38zM42.83,29.74h1.19v1.19h-1.19zM45.21,29.74h1.19v1.19h-1.19zM2.38,30.93h1.19v1.19h-1.19zM5.95,30.93h1.19v1.19h-1.19zM11.90,30.93h1.19v1.19h-1.19zM15.47,30.93h1.19v1.19h-1.19zM19.04,30.93h1.19v1.19h-1.19zM21.42,30.93h4.76v1.19h-4.76zM27.36,30.93h1.19v1.19h-1.19zM29.74,30.93h2.38v1.19h-2.38zM35.69,30.93h4.76v1.19h-4.76zM41.64,30.93h1.19v1.19h-1.19zM2.38,32.12h1.19v1.19h-1.19zM5.95,32.12h1.19v1.19h-1.19zM8.33,32.12h1.19v1.19h-1.19zM10.71,32.12h1.19v1.19h-1.19zM20.23,32.12h2.38v1.19h-2.38zM24.98,32.12h9.52v1.19h-9.52zM36.88,32.12h9.52v1.19h-9.52zM3.57,33.31h3.57v1.19h-3.57zM8.33,33.31h5.95v1.19h-5.95zM15.47,33.31h2.38v1.19h-2.38zM22.61,33.31h1.19v1.19h-1.19zM24.98,33.31h3.57v1.19h-3.57zM32.12,33.31h8.33v1.19h-8.33zM45.21,33.31h1.19v1.19h-1.19zM0.00,34.50h4.76v1.19h-4.76zM11.90,34.50h4.76v1.19h-4.76zM17.85,34.50h2.38v1.19h-2.38zM21.42,34.50h1.19v1.19h-1.19zM23.79,34.50h1.19v1.19h-1.19zM28.55,34.50h2.38v1.19h-2.38zM32.12,34.50h2.38v1.19h-2.38zM38.07,34.50h1.19v1.19h-1.19zM41.64,34.50h1.19v1.19h-1.19zM1.19,35.69h3.57v1.19h-3.57zM10.71,35.69h1.19v1.19h-1.19zM14.28,35.69h1.19v1.19h-1.19zM16.66,35.69h1.19v1.19h-1.19zM19.04,35.69h1.19v1.19h-1.19zM23.79,35.69h1.19v1.19h-1.19zM27.36,35.69h1.19v1.19h-1.19zM29.74,35.69h4.76v1.19h-4.76zM35.69,35.69h1.19v1.19h-1.19zM38.07,35.69h3.57v1.19h-3.57zM45.21,35.69h1.19v1.19h-1.19zM10.71,36.88h1.19v1.19h-1.19zM13.09,36.88h2.38v1.19h-2.38zM17.85,36.88h2.38v1.19h-2.38zM21.42,36.88h1.19v1.19h-1.19zM24.98,36.88h2.38v1.19h-2.38zM30.93,36.88h1.19v1.19h-1.19zM33.31,36.88h1.19v1.19h-1.19zM38.07,36.88h7.14v1.19h-7.14zM0.00,38.07h8.33v1.19h-8.33zM9.52,38.07h1.19v1.19h-1.19zM11.90,38.07h1.19v1.19h-1.19zM16.66,38.07h1.19v1.19h-1.19zM19.04,38.07h1.19v1.19h-1.19zM21.42,38.07h1.19v1.19h-1.19zM24.98,38.07h1.19v1.19h-1.19zM29.74,38.07h9.52v1.19h-9.52zM40.45,38.07h4.76v1.19h-4.76zM0.00,39.26h1.19v1.19h-1.19zM7.14,39.26h1.19v1.19h-1.19zM10.71,39.26h1.19v1.19h-1.19zM13.09,39.26h1.19v1.19h-1.19zM15.47,39.26h3.57v1.19h-3.57zM21.42,39.26h1.19v1.19h-1.19zM23.79,39.26h1.19v1.19h-1.19zM26.17,39.26h2.38v1.19h-2.38zM33.31,39.26h3.57v1.19h-3.57zM40.45,39.26h1.19v1.19h-1.19zM0.00,40.45h1.19v1.19h-1.19zM2.38,40.45h3.57v1.19h-3.57zM7.14,40.45h1.19v1.19h-1.19zM9.52,40.45h1.19v1.19h-1.19zM11.90,40.45h2.38v1.19h-2.38zM15.47,40.45h1.19v1.19h-1.19zM20.23,40.45h2.38v1.19h-2.38zM23.79,40.45h2.38v1.19h-2.38zM28.55,40.45h1.19v1.19h-1.19zM30.93,40.45h3.57v1.19h-3.57zM39.26,40.45h3.57v1.19h-3.57zM0.00,41.64h1.19v1.19h-1.19zM2.38,41.64h3.57v1.19h-3.57zM7.14,41.64h1.19v1.19h-1.19zM13.09,41.64h2.38v1.19h-2.38zM17.85,41.64h1.19v1.19h-1.19zM20.23,41.64h3.57v1.19h-3.57zM26.17,41.64h8.33v1.19h-8.33zM35.69,41.64h1.19v1.19h-1.19zM38.07,41.64h1.19v1.19h-1.19zM41.64,41.64h4.76v1.19h-4.76zM0.00,42.83h1.19v1.19h-1.19zM2.38,42.83h3.57v1.19h-3.57zM7.14,42.83h1.19v1.19h-1.19zM9.52,42.83h1.19v1.19h-1.19zM11.90,42.83h1.19v1.19h-1.19zM16.66,42.83h1.19v1.19h-1.19zM19.04,42.83h4.76v1.19h-4.76zM27.36,42.83h2.38v1.19h-2.38zM30.93,42.83h1.19v1.19h-1.19zM34.50,42.83h1.19v1.19h-1.19zM36.88,42.83h1.19v1.19h-1.19zM40.45,42.83h2.38v1.19h-2.38zM44.02,42.83h2.38v1.19h-2.38zM0.00,44.02h1.19v1.19h-1.19zM7.14,44.02h1.19v1.19h-1.19zM15.47,44.02h5.95v1.19h-5.95zM22.61,44.02h1.19v1.19h-1.19zM24.98,44.02h4.76v1.19h-4.76zM30.93,44.02h1.19v1.19h-1.19zM34.50,44.02h3.57v1.19h-3.57zM39.26,44.02h2.38v1.19h-2.38zM42.83,44.02h1.19v1.19h-1.19zM0.00,45.21h8.33v1.19h-8.33zM10.71,45.21h3.57v1.19h-3.57zM17.85,45.21h1.19v1.19h-1.19zM21.42,45.21h4.76v1.19h-4.76zM28.55,45.21h1.19v1.19h-1.19zM30.93,45.21h1.19v1.19h-1.19zM34.50,45.21h1.19v1.19h-1.19zM36.88,45.21h3.57v1.19h-3.57zM41.64,45.21h2.38v1.19h-2.38zM45.21,45.21h1.19v1.19h-1.19z"/></svg></div>
</div>
<svg id="txt" width="720" height="1040" viewBox="0 0 720 1040">
<text x="20" y="75.5" font-size="31" fill="#ffd54f" font-weight="bold" font-style="normal" textLength="315.4" lengthAdjust="spacingAndGlyphs" stroke="#ffd54f" stroke-width="0.25">ประมาณการเศรษฐกิจไทย</text>
<text x="348.8" y="76" font-size="27" fill="#ffffff" font-weight="bold" font-style="normal" textLength="89.6" lengthAdjust="spacingAndGlyphs" stroke="#ffffff" stroke-width="0.22">ปี 2568</text>
<text x="19.2" y="107" font-size="18" fill="#ffffff" font-weight="normal" font-style="italic" textLength="170.3" lengthAdjust="spacingAndGlyphs" stroke="#ffffff" stroke-width="0.47">ณ เดือนเมษายน 2568</text>
<text x="28" y="144.5" font-size="18" fill="#ffd54f" font-weight="normal" font-style="normal" textLength="307.5" lengthAdjust="spacingAndGlyphs" stroke="#ffd54f" stroke-width="0.47">อัตราการขยายตัวทางเศรษฐกิจ (ร้อยละ)</text>
<text x="127" y="435" font-size="24" fill="#1c4a84" font-weight="normal" font-style="normal" textLength="92.0" lengthAdjust="spacingAndGlyphs" stroke="#1c4a84" stroke-width="0.62">การบริโภค</text>
<text x="127" y="606" font-size="24" fill="#1c4a84" font-weight="normal" font-style="normal" textLength="85.0" lengthAdjust="spacingAndGlyphs" stroke="#1c4a84" stroke-width="0.62">การลงทุน</text>
<text x="130" y="802.5" font-size="24" fill="#1c4a84" font-weight="normal" font-style="normal" textLength="115.0" lengthAdjust="spacingAndGlyphs" stroke="#1c4a84" stroke-width="0.62">อัตราเงินเฟ้อ</text>
<text x="486" y="434" font-size="24" fill="#1c4a84" font-weight="normal" font-style="normal" textLength="187.0" lengthAdjust="spacingAndGlyphs" stroke="#1c4a84" stroke-width="0.62">การค้าระหว่างประเทศ</text>
<text x="15.5" y="501.3" font-size="16.2" fill="#1c4a84" font-weight="normal" font-style="normal" textLength="136.3" lengthAdjust="spacingAndGlyphs" stroke="#1c4a84" stroke-width="0.42">การบริโภคภาคเอกชน</text>
<text x="15.5" y="545.5" font-size="16.2" fill="#1c4a84" font-weight="normal" font-style="normal" textLength="111.3" lengthAdjust="spacingAndGlyphs" stroke="#1c4a84" stroke-width="0.42">การบริโภคภาครัฐ</text>
<text x="15.5" y="679.3" font-size="16.2" fill="#1c4a84" font-weight="normal" font-style="normal" textLength="132.5" lengthAdjust="spacingAndGlyphs" stroke="#1c4a84" stroke-width="0.42">การลงทุนภาคเอกชน</text>
<text x="15.5" y="721.3" font-size="16.2" fill="#1c4a84" font-weight="normal" font-style="normal" textLength="108.3" lengthAdjust="spacingAndGlyphs" stroke="#1c4a84" stroke-width="0.42">การลงทุนภาครัฐ</text>
<text x="18" y="876.3" font-size="16.2" fill="#1c4a84" font-weight="normal" font-style="normal" textLength="116.3" lengthAdjust="spacingAndGlyphs" stroke="#1c4a84" stroke-width="0.42">อัตราเงินเฟ้อทั่วไป</text>
<text x="18" y="920" font-size="16.2" fill="#1c4a84" font-weight="normal" font-style="normal" textLength="132.5" lengthAdjust="spacingAndGlyphs" stroke="#1c4a84" stroke-width="0.42">อัตราเงินเฟ้อพื้นฐาน</text>
<text x="381.3" y="504.3" font-size="16.5" fill="#1c4a84" font-weight="normal" font-style="normal" textLength="95.7" lengthAdjust="spacingAndGlyphs" stroke="#1c4a84" stroke-width="0.43">ปริมาณส่งออก</text>
<text x="381.3" y="523" font-size="16.5" fill="#1c4a84" font-weight="normal" font-style="normal" textLength="103.0" lengthAdjust="spacingAndGlyphs" stroke="#1c4a84" stroke-width="0.43">สินค้าและบริการ</text>
<text x="380" y="569.3" font-size="16.5" fill="#1c4a84" font-weight="normal" font-style="normal" textLength="123.3" lengthAdjust="spacingAndGlyphs" stroke="#1c4a84" stroke-width="0.43">ปริมาณนำเข้าสินค้า</text>
<text x="380" y="588" font-size="16.5" fill="#1c4a84" font-weight="normal" font-style="normal" textLength="65.8" lengthAdjust="spacingAndGlyphs" stroke="#1c4a84" stroke-width="0.43">และบริการ</text>
<text x="380" y="631.8" font-size="16.5" fill="#1c4a84" font-weight="normal" font-style="normal" textLength="60.0" lengthAdjust="spacingAndGlyphs" stroke="#1c4a84" stroke-width="0.43">ดุลการค้า</text>
<text x="378.8" y="645" font-size="9" fill="#a6a6a6" font-weight="normal" font-style="italic" textLength="82.0" lengthAdjust="spacingAndGlyphs" stroke="#a6a6a6" stroke-width="0.23">(พันล้านดอลลาร์สหรัฐ)</text>
<text x="383.8" y="696.3" font-size="16.5" fill="#1c4a84" font-weight="normal" font-style="normal" textLength="119.5" lengthAdjust="spacingAndGlyphs" stroke="#1c4a84" stroke-width="0.43">มูลค่าสินค้าส่งออก</text>
<text x="382" y="715" font-size="16.5" fill="#1c4a84" font-weight="normal" font-style="normal" textLength="66.8" lengthAdjust="spacingAndGlyphs" stroke="#1c4a84" stroke-width="0.43">ในรูป USD</text>
<text x="381.3" y="758.8" font-size="16.5" fill="#1c4a84" font-weight="normal" font-style="normal" textLength="110.7" lengthAdjust="spacingAndGlyphs" stroke="#1c4a84" stroke-width="0.43">มูลค่าสินค้านำเข้า</text>
<text x="381.3" y="777.5" font-size="16.5" fill="#1c4a84" font-weight="normal" font-style="normal" textLength="65.0" lengthAdjust="spacingAndGlyphs" stroke="#1c4a84" stroke-width="0.43">ในรูป USD</text>
<text x="381.3" y="825" font-size="16.5" fill="#1c4a84" font-weight="normal" font-style="normal" textLength="116.2" lengthAdjust="spacingAndGlyphs" stroke="#1c4a84" stroke-width="0.43">ดุลบัญชีเดินสะพัด</text>
<text x="381.3" y="838" font-size="9" fill="#a6a6a6" font-weight="normal" font-style="italic" textLength="81.2" lengthAdjust="spacingAndGlyphs" stroke="#a6a6a6" stroke-width="0.23">(พันล้านดอลลาร์สหรัฐ)</text>
<text x="376" y="928" font-size="10" fill="#3a62a6" font-weight="normal" font-style="normal" textLength="253.0" lengthAdjust="spacingAndGlyphs" stroke="#3a62a6" stroke-width="0">หมายเหตุ: ข้อมูลอัตราการขยายตัวของมูลค่าที่แท้จริง (Real term)</text>
<text x="376" y="944.5" font-size="10" fill="#3a62a6" font-weight="normal" font-style="normal" textLength="25.0" lengthAdjust="spacingAndGlyphs" text-decoration="underline" stroke="#3a62a6" stroke-width="0">ยกเว้น</text>
<text x="404" y="944.5" font-size="10" fill="#3a62a6" font-weight="normal" font-style="normal" textLength="288.5" lengthAdjust="spacingAndGlyphs" stroke="#3a62a6" stroke-width="0">อัตราการขยายตัวของมูลค่าสินค้าส่งออกและนำเข้าสินค้าที่คิดจาก USD term</text>
<text x="404" y="958" font-size="10" fill="#3a62a6" font-weight="normal" font-style="normal" textLength="56.0" lengthAdjust="spacingAndGlyphs" stroke="#3a62a6" stroke-width="0">ตามระบบ BOP</text>
<text x="19.3" y="1033" font-size="20.5" fill="#ffffff" font-weight="normal" font-style="normal" textLength="349.3" lengthAdjust="spacingAndGlyphs" stroke="#ffffff" stroke-width="0.75">สำนักงานเศรษฐกิจการคลัง กระทรวงการคลัง</text>
</svg>
</body>
</html>
